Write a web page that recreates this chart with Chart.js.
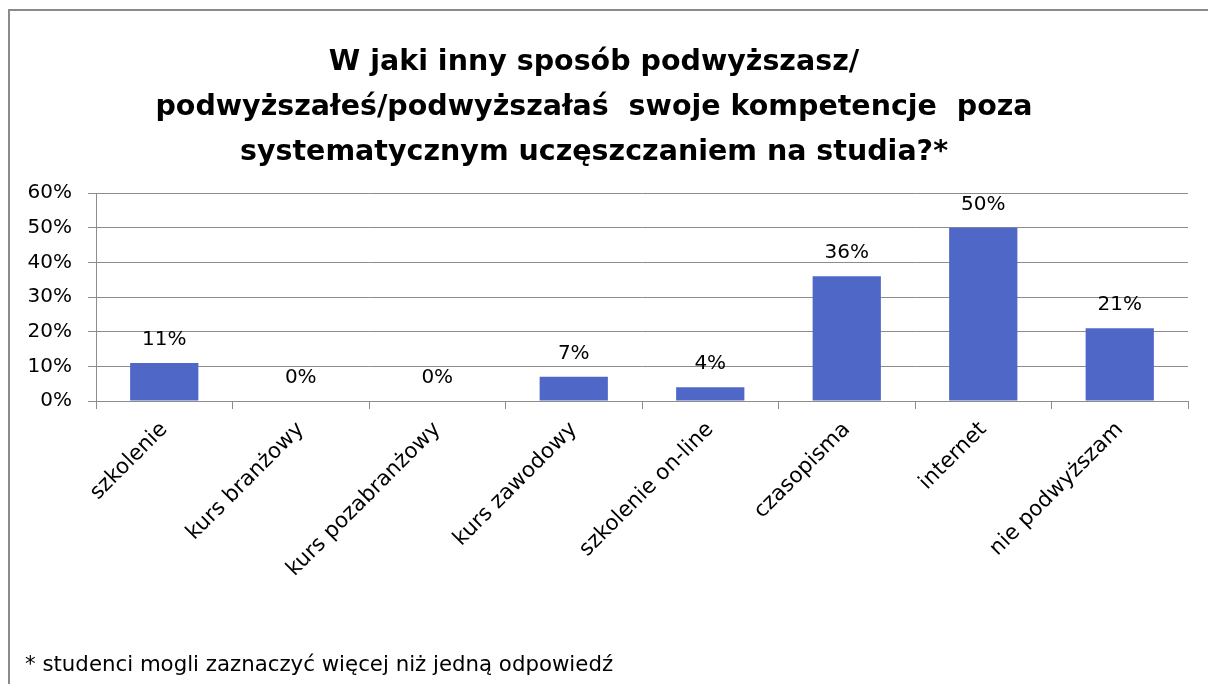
<!DOCTYPE html>
<html>
<head>
<meta charset="utf-8">
<script src="https://cdn.jsdelivr.net/npm/chart.js@4/dist/chart.umd.min.js"></script>
<style>
  body { margin: 0; background: #fff; }
  #wrap { position: relative; width: 1208px; height: 684px; overflow: hidden; }
  #frame { position: absolute; left: 8px; top: 9px; width: 1300px; height: 800px;
           border-top: 2px solid #8a8a8a; border-left: 2px solid #8a8a8a; pointer-events: none; }
</style>
</head>
<body>
<div id="wrap">
  <canvas id="chart" width="1208" height="684"></canvas>
  <div id="frame"></div>
</div>
<script>
const categories = ['szkolenie', 'kurs branżowy', 'kurs pozabranżowy', 'kurs zawodowy',
                    'szkolenie on-line', 'czasopisma', 'internet', 'nie podwyższam'];
const values = [11, 0, 0, 7, 4, 36, 50, 21];
const titleLines = ['W jaki inny sposób podwyższasz/',
                    'podwyższałeś/podwyższałaś  swoje kompetencje  poza',
                    'systematycznym uczęszczaniem na studia?*'];
const footnote = '* studenci mogli zaznaczyć więcej niż jedną odpowiedź';

const fontFamily = '"DejaVu Sans", sans-serif';
const gridColor = '#8c8c8c';

// labels above the bars
const valueLabels = {
    id: 'valueLabels',
    afterDatasetsDraw(chart) {
        const ctx = chart.ctx;
        const meta = chart.getDatasetMeta(0);
        ctx.save();
        ctx.font = '20px ' + fontFamily;
        ctx.fillStyle = '#000';
        ctx.textAlign = 'center';
        ctx.textBaseline = 'middle';
        meta.data.forEach((bar, i) => {
            ctx.fillText(values[i] + '%', bar.x, bar.y - 23);
        });
        ctx.restore();
    }
};

const footnotePlugin = {
    id: 'footnote',
    afterDraw(chart) {
        const ctx = chart.ctx;
        ctx.save();
        ctx.font = '21.3px ' + fontFamily;
        ctx.fillStyle = '#000';
        ctx.textAlign = 'left';
        ctx.textBaseline = 'middle';
        ctx.fillText(footnote, 25, 665);
        ctx.restore();
    }
};

new Chart(document.getElementById('chart'), {
    type: 'bar',
    data: {
        labels: categories,
        datasets: [{
            data: values,
            backgroundColor: '#4f68c8',
            barPercentage: 0.5,
            categoryPercentage: 1.0
        }]
    },
    options: {
        responsive: false,
        animation: false,
        layout: { padding: { left: 0, right: 20, top: 0, bottom: 0 } },
        plugins: {
            legend: { display: false },
            tooltip: { enabled: false },
            title: {
                display: true,
                text: titleLines,
                color: '#000',
                font: { family: fontFamily, size: 28.5, weight: 'bold', lineHeight: 1.58 },
                padding: { top: 40, bottom: 18 }
            }
        },
        scales: {
            x: {
                afterFit(scale) { scale.height = 283; },
                grid: { drawOnChartArea: false, drawTicks: true, tickLength: 8, color: gridColor },
                border: { color: gridColor, width: 1 },
                ticks: {
                    color: '#000',
                    font: { family: fontFamily, size: 21.5 },
                    minRotation: 45,
                    maxRotation: 45,
                    padding: 8
                }
            },
            y: {
                min: 0,
                max: 60,
                afterFit(scale) { scale.width = 96; },
                grid: { color: gridColor, tickLength: 8 },
                border: { color: gridColor, width: 1 },
                ticks: {
                    stepSize: 10,
                    color: '#000',
                    font: { family: fontFamily, size: 20 },
                    padding: 16,
                    callback: v => v + '%'
                }
            }
        }
    },
    plugins: [valueLabels, footnotePlugin]
});
</script>
</body>
</html>
